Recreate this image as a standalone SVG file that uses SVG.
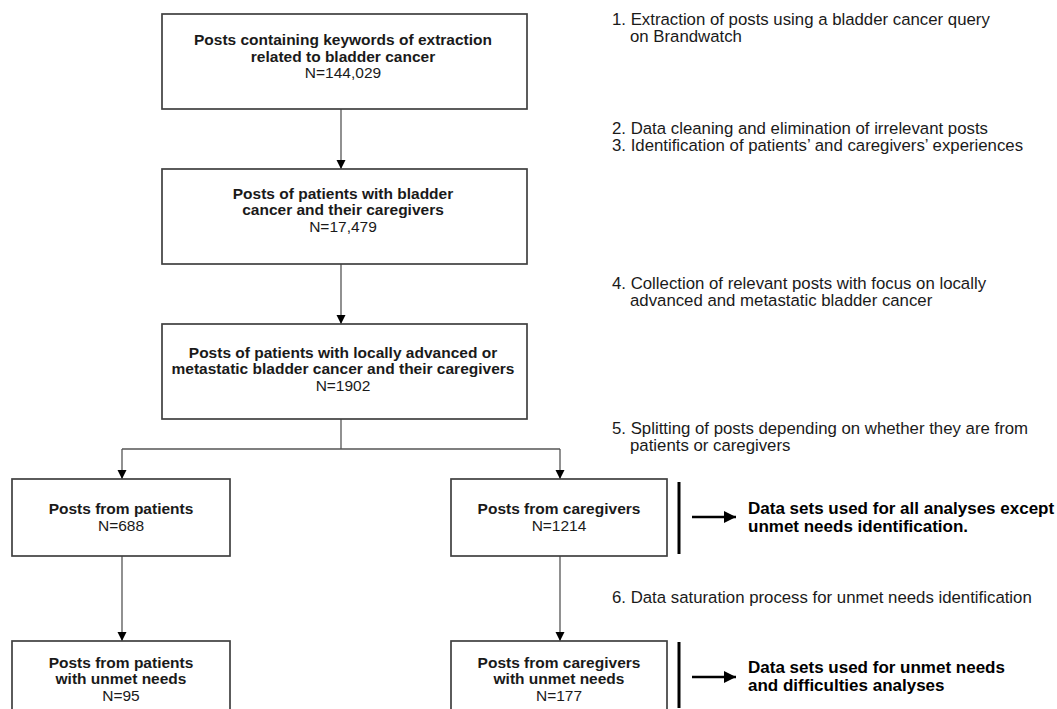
<svg xmlns="http://www.w3.org/2000/svg" width="1057" height="709" viewBox="0 0 1057 709">
<style>
.box{fill:#fff;stroke:#404040;stroke-width:1.7}
.bt{font-family:"Liberation Sans",Arial,sans-serif;font-weight:bold;font-size:15.5px;fill:#1a1a1a;text-anchor:middle}
.nt{font-family:"Liberation Sans",Arial,sans-serif;font-size:15.5px;fill:#1a1a1a;text-anchor:middle}
.rt{font-family:"Liberation Sans",Arial,sans-serif;font-size:16.8px;fill:#1a1a1a}
.rb{font-family:"Liberation Sans",Arial,sans-serif;font-weight:bold;font-size:17px;fill:#000}
.con{fill:none;stroke:#555;stroke-width:1.3}
.bar{stroke:#000;stroke-width:3}
.thick{stroke:#000;stroke-width:2.6;fill:none}
</style>
<defs>
<marker id="ah" markerUnits="userSpaceOnUse" markerWidth="10" markerHeight="10" refX="9" refY="4.5" orient="auto">
<path d="M0,0 L9,4.5 L0,9 z" fill="#000"/>
</marker>
<marker id="ahb" markerUnits="userSpaceOnUse" markerWidth="14" markerHeight="14" refX="12" refY="6" orient="auto">
<path d="M0,0 L12,6 L0,12 z" fill="#000"/>
</marker>
</defs>
<g id="connectors">
<line class="con" x1="341" y1="109" x2="341" y2="169" marker-end="url(#ah)"/>
<line class="con" x1="341" y1="264" x2="341" y2="324" marker-end="url(#ah)"/>
<line class="con" x1="341" y1="419" x2="341" y2="449"/>
<line class="con" x1="122" y1="449" x2="560" y2="449"/>
<line class="con" x1="122" y1="449" x2="122" y2="479" marker-end="url(#ah)"/>
<line class="con" x1="560" y1="449" x2="560" y2="479" marker-end="url(#ah)"/>
<line class="con" x1="122" y1="556" x2="122" y2="641" marker-end="url(#ah)"/>
<line class="con" x1="560" y1="556" x2="560" y2="641" marker-end="url(#ah)"/>
<line class="bar" x1="679" y1="482" x2="679" y2="554"/>
<line class="thick" x1="692" y1="517" x2="736" y2="517" marker-end="url(#ahb)"/>
<line class="bar" x1="679" y1="642" x2="679" y2="708"/>
<line class="thick" x1="692" y1="677" x2="736" y2="677" marker-end="url(#ahb)"/>
</g>
<g id="n1">
<rect class="box" x="162" y="14" width="365" height="95"/>
<text class="bt" x="343" y="45">Posts containing keywords of extraction</text>
<text class="bt" x="343" y="61.5">related to bladder cancer</text>
<text class="nt" x="343" y="78">N=144,029</text>
</g>
<g id="n2">
<rect class="box" x="162" y="169" width="365" height="95"/>
<text class="bt" x="343" y="198.5">Posts of patients with bladder</text>
<text class="bt" x="343" y="215">cancer and their caregivers</text>
<text class="nt" x="343" y="231.5">N=17,479</text>
</g>
<g id="n3">
<rect class="box" x="162" y="324" width="365" height="95"/>
<text class="bt" x="343" y="357.5">Posts of patients with locally advanced or</text>
<text class="bt" x="343" y="374">metastatic bladder cancer and their caregivers</text>
<text class="nt" x="343" y="390.5">N=1902</text>
</g>
<g id="n4">
<rect class="box" x="12" y="479" width="218" height="77"/>
<text class="bt" x="121" y="514">Posts from patients</text>
<text class="nt" x="121" y="530.5">N=688</text>
</g>
<g id="n5">
<rect class="box" x="451" y="479" width="216" height="77"/>
<text class="bt" x="559" y="514">Posts from caregivers</text>
<text class="nt" x="559" y="530.5">N=1214</text>
</g>
<g id="n6">
<rect class="box" x="12" y="641" width="218" height="80"/>
<text class="bt" x="121" y="667.5">Posts from patients</text>
<text class="bt" x="121" y="684">with unmet needs</text>
<text class="nt" x="121" y="700.5">N=95</text>
</g>
<g id="n7">
<rect class="box" x="451" y="641" width="216" height="80"/>
<text class="bt" x="559" y="667.5">Posts from caregivers</text>
<text class="bt" x="559" y="684">with unmet needs</text>
<text class="nt" x="559" y="700.5">N=177</text>
</g>
<g id="notes">
<text class="rt" x="612" y="25">1. Extraction of posts using a bladder cancer query</text>
<text class="rt" x="630" y="42">on Brandwatch</text>
<text class="rt" x="612" y="134">2. Data cleaning and elimination of irrelevant posts</text>
<text class="rt" x="612" y="151">3. Identification of patients’ and caregivers’ experiences</text>
<text class="rt" x="612" y="289">4. Collection of relevant posts with focus on locally</text>
<text class="rt" x="630" y="306">advanced and metastatic bladder cancer</text>
<text class="rt" x="612" y="434">5. Splitting of posts depending on whether they are from</text>
<text class="rt" x="630" y="451">patients or caregivers</text>
<text class="rt" x="612" y="603">6. Data saturation process for unmet needs identification</text>
</g>
<g id="outputs">
<text class="rb" x="748" y="514">Data sets used for all analyses except</text>
<text class="rb" x="748" y="532">unmet needs identification.</text>
<text class="rb" x="748" y="673">Data sets used for unmet needs</text>
<text class="rb" x="748" y="691">and difficulties analyses</text>
</g>
</svg>
